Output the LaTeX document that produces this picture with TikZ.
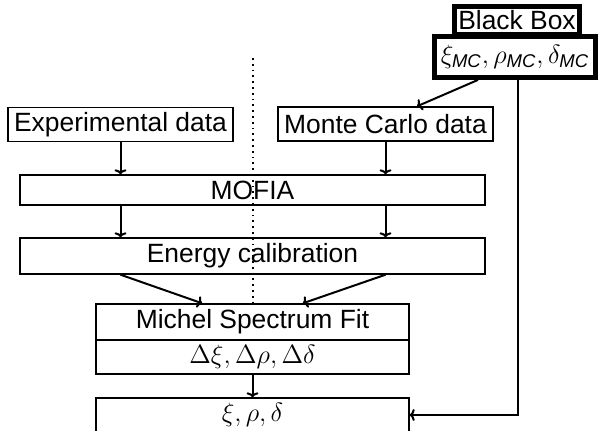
\RequirePackage{fix-cm}
\documentclass[tikz,border=0pt]{standalone}
\usepackage{amsmath}
\usepackage[no-math]{fontspec}
\setmainfont{Liberation Sans}
\usepackage{tikz}
\usetikzlibrary{calc}
\usetikzlibrary{arrows.meta}

\tikzset{
  stage/.style={draw, line width=0.7pt, inner sep=1pt, minimum height=17pt,
    font=\fontsize{13.2}{15.8}\selectfont},
  blackbox/.style={stage, line width=2.4pt},
  flow/.style={line width=1pt, -{To[length=2.5pt,width=6pt]}}
}

\begin{document}
\begin{tikzpicture}[x=0.5pt,y=-0.5pt]
\clip (0,0) rectangle (599,430);

% Input data
\node[stage, minimum width=112.5pt] (exp) at (120.5,124.5) {Experimental data};
\node[stage, minimum width=107.5pt] (mc) at (385.5,124) {Monte Carlo data};

% Common analysis chain
\node[stage, minimum width=232.5pt, minimum height=15pt] (mofia) at (252.5,190) {MOFIA};
\node[stage, minimum width=232.5pt, minimum height=18pt] (ecal) at (252.5,256) {Energy calibration};
\node[stage, minimum width=156.5pt, minimum height=18pt] (fit) at (252.5,322) {Michel Spectrum Fit};
\node[stage, minimum width=156.5pt] (err) at (252.5,357) {$\Delta\xi, \Delta\rho, \Delta\delta$};
\node[stage, minimum width=156.5pt] (res) at (252.5,415) {$\xi, \rho, \delta$};

% Hidden parameters
\node[blackbox, minimum width=62.5pt, minimum height=14pt] (bb) at (517,20.5) {Black Box};
\node[blackbox, minimum width=80.5pt, minimum height=20.5pt] (bbval) at (515,57)
  {$\xi_{\text{\itshape MC}}, \rho_{\text{\itshape MC}}, \delta_{\text{\itshape MC}}$};

% Split between data and simulation
\coordinate (cut) at (253,58);
\draw[dotted, line width=0.9pt] (cut) -- (cut |- fit.north);

% Flow
\draw[flow] (exp.south) -- (exp.south |- mofia.north);
\draw[flow] (mc.south) -- (mc.south |- mofia.north);
\draw[flow] (mofia.south -| exp) -- (ecal.north -| exp);
\draw[flow] (mofia.south -| mc) -- (ecal.north -| mc);
\draw[flow] (ecal.south -| exp) -- ($(fit.north west)!0.34!(fit.north east)$);
\draw[flow] (ecal.south -| mc) -- ($(fit.north west)!0.66!(fit.north east)$);
\draw[flow] (err.south) -- (res.north);
\draw[flow] ([xshift=-18.5pt]bbval.south) -- ([xshift=15.75pt]mc.north);
\draw[flow] ([xshift=1.5pt]bbval.south) |- (res.east);
\end{tikzpicture}
\end{document}
